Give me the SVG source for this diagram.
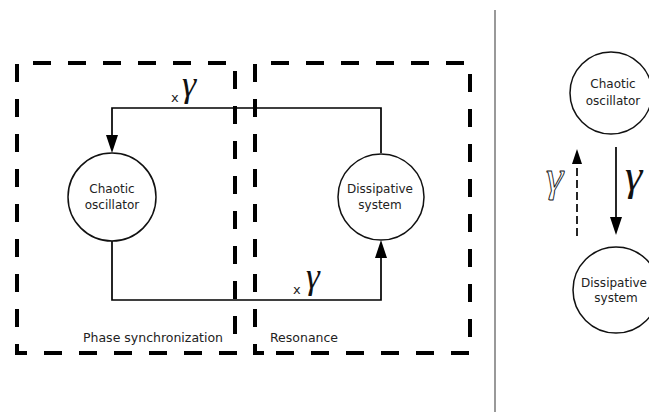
<svg xmlns="http://www.w3.org/2000/svg" width="649" height="412" viewBox="0 0 649 412">
<style>
.box{fill:none;stroke:#000;stroke-width:4;stroke-dasharray:18 17}
.node{fill:#fff;stroke:#111;stroke-width:1.5}
.lbl{font-family:"DejaVu Sans",sans-serif;font-size:12px;fill:#222;text-anchor:middle}
.cap{font-family:"DejaVu Sans",sans-serif;font-size:12.5px;fill:#222}
.x{font-family:"DejaVu Sans",sans-serif;font-size:13px;fill:#222}
.g{font-family:"Liberation Serif",serif;font-style:italic;fill:#111}
.wire{fill:none;stroke:#000;stroke-width:1.7}
</style>
<defs>
<marker id="ah" markerUnits="userSpaceOnUse" markerWidth="20" markerHeight="14" refX="14" refY="6" orient="auto">
<path d="M0,0 L18,6 L0,12 z" fill="#000"/>
</marker>
<marker id="ahs" markerUnits="userSpaceOnUse" markerWidth="18" markerHeight="12" refX="12" refY="5" orient="auto">
<path d="M0,0 L15,5 L0,10 z" fill="#000"/>
</marker>
</defs>
<rect width="649" height="412" fill="#fff"/>
<g id="region-phase-sync">
<path class="box" d="M26,353 L17,353 L17,63 L235,63 L235,353 Z"/>
<text class="cap" x="83" y="342">Phase synchronization</text>
</g>
<g id="region-resonance">
<path class="box" d="M264,353 L255,353 L255,63 L470,63 L470,353 Z"/>
<text class="cap" x="270" y="342">Resonance</text>
</g>
<line id="separator" x1="495" y1="10" x2="495" y2="412" stroke="#777" stroke-width="1.5"/>
<g id="connectors">
<path class="wire" d="M381,153 V108 H112 V149" marker-end="url(#ah)"/>
<path class="wire" d="M112,241 V300 H381 V244" marker-end="url(#ah)"/>
<path class="wire" d="M616,147 V231" stroke-width="1.3" marker-end="url(#ah)"/>
<path class="wire" d="M577,236 V152" stroke-width="1.2" stroke-dasharray="8 4" marker-end="url(#ahs)"/>
<text class="x" x="171" y="102">x</text>
<text class="g" font-size="36" x="182" y="96">γ</text>
<text class="x" x="293" y="294">x</text>
<text class="g" font-size="35" x="306" y="288">γ</text>
<text class="g" font-size="44" x="625" y="190">γ</text>
<text class="g" font-size="44" x="546" y="191" style="fill:#fff;stroke:#111;stroke-width:0.9">γ</text>
</g>
<g id="node-chaotic-left">
<circle class="node" cx="112" cy="197" r="44"/>
<text class="lbl" x="112" y="193">Chaotic</text>
<text class="lbl" x="112" y="209">oscillator</text>
</g>
<g id="node-dissipative-left">
<circle class="node" cx="381" cy="197" r="43"/>
<text class="lbl" x="380" y="193">Dissipative</text>
<text class="lbl" x="380" y="209">system</text>
</g>
<g id="node-chaotic-right">
<circle class="node" cx="611" cy="93" r="41"/>
<text class="lbl" x="613" y="88">Chaotic</text>
<text class="lbl" x="613" y="105">oscillator</text>
</g>
<g id="node-dissipative-right">
<circle class="node" cx="616" cy="290" r="43"/>
<text class="lbl" x="614" y="287">Dissipative</text>
<text class="lbl" x="616" y="302">system</text>
</g>
</svg>
